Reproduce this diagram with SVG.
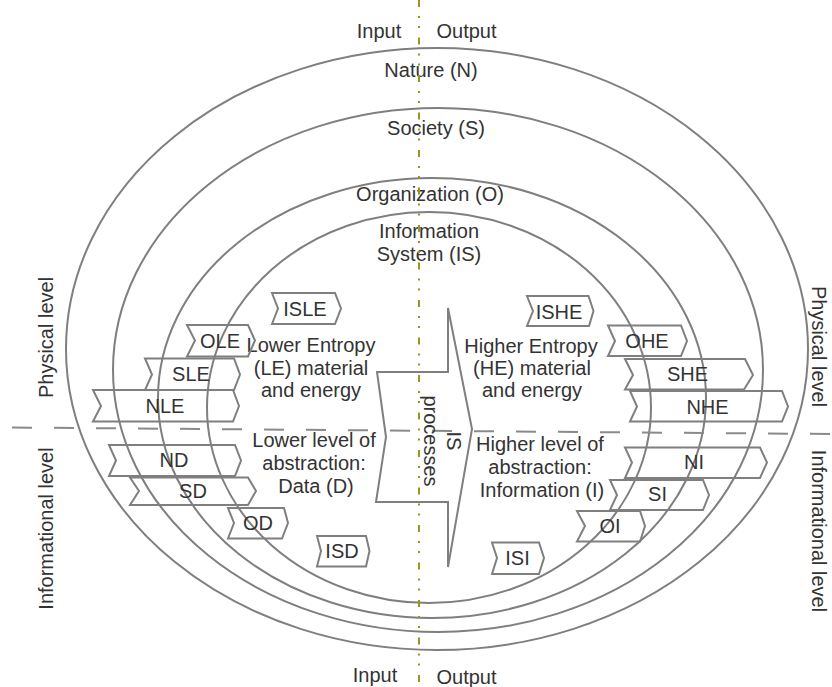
<svg xmlns="http://www.w3.org/2000/svg" width="832" height="687" viewBox="0 0 832 687">
<style>
text{font-family:"Liberation Sans",Arial,sans-serif;font-size:20px;fill:#333;}
.c{text-anchor:middle;}
.ell{fill:none;stroke:#7f7f7f;stroke-width:2;}
.tag{fill:none;stroke:#7f7f7f;stroke-width:2;stroke-linejoin:miter;}
.arrow{fill:none;stroke:#7f7f7f;stroke-width:2;}
.hdash{stroke:#8a8a8a;stroke-width:2;stroke-dasharray:20 22;fill:none;}
.vdot{stroke:#969622;stroke-width:2;stroke-dasharray:7 9 2 8 2 9.5;fill:none;}
</style>
<rect width="832" height="687" fill="#fff"/>
<g id="nature"><ellipse class="ell" cx="437" cy="349" rx="371" ry="301"/><text class="c" x="431" y="77">Nature (N)</text></g>
<g id="society"><ellipse class="ell" cx="438" cy="370" rx="325" ry="262"/><text class="c" x="436" y="135">Society (S)</text></g>
<g id="organization"><ellipse class="ell" cx="432" cy="398" rx="274" ry="220"/><text class="c" x="430" y="201">Organization (O)</text></g>
<g id="information-system"><ellipse class="ell" cx="429" cy="407.5" rx="222" ry="195.5"/><text class="c" x="429" y="238">Information</text><text class="c" x="429" y="261">System (IS)</text></g>
<g id="guides">
<line class="hdash" x1="12" y1="427.5" x2="830" y2="434"/>
<line class="vdot" x1="419" y1="0" x2="419" y2="687"/>
</g>
<g id="io-labels">
<text class="c" x="379" y="38">Input</text><text class="c" x="466.5" y="38">Output</text>
<text class="c" x="375" y="682">Input</text><text class="c" x="466.5" y="684">Output</text>
</g>
<g id="side-labels">
<text class="c" transform="translate(53,337.5) rotate(-90)">Physical level</text>
<text class="c" transform="translate(53,528.5) rotate(-90)">Informational level</text>
<text class="c" transform="translate(812,346.5) rotate(90)">Physical level</text>
<text class="c" transform="translate(812,531) rotate(90)">Informational level</text>
</g>
<g id="is-processes">
<polygon class="arrow" points="377,372 448,372 448,308 472,429 448,567 448,502 376,502 386,437"/>
<text class="c" transform="translate(447,441) rotate(90)"><tspan x="0" dy="0">IS</tspan><tspan x="0" dy="23">processes</tspan></text>
</g>
<g id="lower-entropy"><text class="c" x="311" y="352">Lower Entropy</text><text class="c" x="311" y="375">(LE) material</text><text class="c" x="311" y="397">and energy</text></g>
<g id="data"><text class="c" x="314" y="447">Lower level of</text><text class="c" x="314" y="470">abstraction:</text><text class="c" x="316" y="493">Data (D)</text></g>
<g id="higher-entropy"><text class="c" x="531" y="353">Higher Entropy</text><text class="c" x="532" y="375">(HE) material</text><text class="c" x="532" y="397">and energy</text></g>
<g id="information"><text class="c" x="540" y="451">Higher level of</text><text class="c" x="540" y="474">abstraction:</text><text class="c" x="542" y="497">Information (I)</text></g>
<g id="isle"><polygon class="tag" points="272,293 335,293 341,308.5 335,324 272,324 278,308.5"/><text class="c" x="305" y="315.5">ISLE</text></g>
<g id="ole"><polygon class="tag" points="187,325 248,325 255,340.5 248,356.5 187,356.5 195,340.5"/><text class="c" x="220" y="348">OLE</text></g>
<g id="sle"><polygon class="tag" points="145,358.5 234,358.5 240,374.5 234,390 145,390 152,374.5"/><text class="c" x="191" y="381">SLE</text></g>
<g id="nle"><polygon class="tag" points="93,390 233,390 239,406 233,421.5 93,421.5 101,406"/><text class="c" x="165" y="413">NLE</text></g>
<g id="nd"><polygon class="tag" points="109,445 235,445 241,460.5 235,476 109,476 116,460.5"/><text class="c" x="174" y="467">ND</text></g>
<g id="sd"><polygon class="tag" points="130,477.5 248,477.5 256,491 248,505 130,505 139,491"/><text class="c" x="193" y="498">SD</text></g>
<g id="od"><polygon class="tag" points="228,508 284,508 288,523 282,538.5 228,538.5 234,523"/><text class="c" x="258" y="529.5">OD</text></g>
<g id="isd"><polygon class="tag" points="317,536 366,536 369.5,551 366,566.5 317,566.5 321,551"/><text class="c" x="342" y="558">ISD</text></g>
<g id="ishe"><polygon class="tag" points="527,296 588.5,296 593.5,311 589,326 527,326 533,311"/><text class="c" x="559" y="318.5">ISHE</text></g>
<g id="ohe"><polygon class="tag" points="608,325.5 681,325.5 687,341 681,356 608,356 615,341"/><text class="c" x="647" y="348">OHE</text></g>
<g id="she"><polygon class="tag" points="625,359 745,359 753,375 744,389.5 625,389.5 633,375"/><text class="c" x="687.5" y="381">SHE</text></g>
<g id="nhe"><polygon class="tag" points="630,391 782,391 788,406.5 782,421.5 630,421.5 637,406.5"/><text class="c" x="707.5" y="413.5">NHE</text></g>
<g id="ni"><polygon class="tag" points="625,447.5 760,447.5 767,462.5 760,478 625,478 632,462.5"/><text class="c" x="694" y="469">NI</text></g>
<g id="si"><polygon class="tag" points="610,480 703,480 709,495 703,510 610,510 617,495"/><text class="c" x="657.5" y="501">SI</text></g>
<g id="oi"><polygon class="tag" points="577,511 640,511 645,526 640,541.5 577,541.5 585,526"/><text class="c" x="610" y="532.5">OI</text></g>
<g id="isi"><polygon class="tag" points="492,542.5 539,542.5 544,558 539,574 492,574 497,558"/><text class="c" x="517.5" y="565">ISI</text></g>
</svg>
